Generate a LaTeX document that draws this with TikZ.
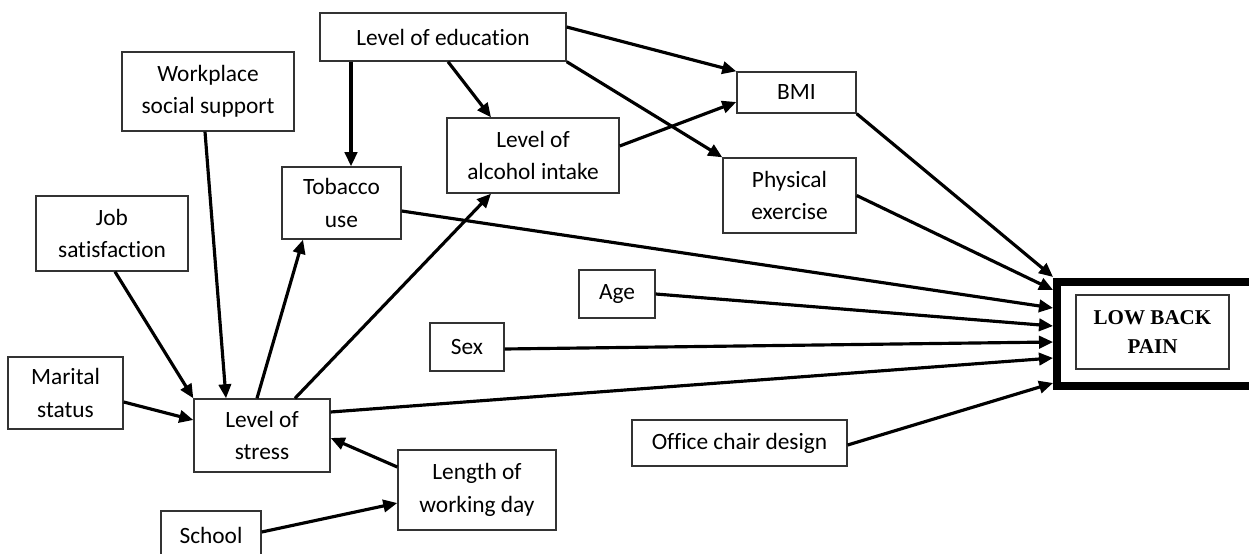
\documentclass[tikz,border=0pt]{standalone}
\usepackage{fontspec}
\setmainfont{Carlito}[Ligatures=NoCommon]
\newfontfamily\tiempos{Liberation Serif}
\usetikzlibrary{arrows.meta}

\tikzset{
  caja/.style={draw=black!80, line width=0.8pt, align=center, inner sep=2pt,
    font=\fontsize{13.3}{18.5}\selectfont},
  flecha/.style={line width=1.8pt, -{Triangle[length=8pt,width=7pt]}}
}

\begin{document}
\begin{tikzpicture}[x=0.02cm,y=-0.02cm]
        \useasboundingbox (0,0) rectangle (1249,554);

        % Cajas de arriba
        \node (edu) at (443,37) [caja, minimum width=4.92cm, minimum height=0.96cm] {Level of education};
        \node (work) at (208,91.5) [caja, minimum width=3.44cm, minimum height=1.58cm] {Workplace\\social support};
        \node (tob) at (341.5,203) [caja, minimum width=2.38cm, minimum height=1.44cm] {Tobacco\\use};
        \node (alc) at (533,155.5) [caja, minimum width=3.44cm, minimum height=1.5cm] {Level of\\alcohol intake};
        \node (bmi) at (796.5,92.5) [caja, minimum width=2.38cm, minimum height=0.82cm] {BMI};
        \node (phys) at (789.5,195.5) [caja, minimum width=2.66cm, minimum height=1.5cm] {Physical\\exercise};

        % Cajas de la izquierda y abajo
        \node (job) at (112,233.5) [caja, minimum width=3.04cm, minimum height=1.5cm] {Job\\satisfaction};
        \node (mar) at (65.5,393) [caja, minimum width=2.3cm, minimum height=1.44cm] {Marital\\status};
        \node (stress) at (262,435.5) [caja, minimum width=2.72cm, minimum height=1.46cm] {Level of\\stress};
        \node (len) at (477,490) [caja, minimum width=3.16cm, minimum height=1.6cm] {Length of\\working day};
        \node (school) at (211,535) [caja, minimum width=2cm, minimum height=0.96cm] {School};

        % Cajas del centro
        \node (age) at (617,294) [caja, minimum width=1.52cm, minimum height=0.96cm] {Age};
        \node (sex) at (467,347) [caja, minimum width=1.48cm, minimum height=0.96cm] {Sex};
        \node (chair) at (739.5,443) [caja, minimum width=4.3cm, minimum height=0.92cm] {Office chair design};

        % Caja final
        \node (lbp) at (1155,334) [draw, line width=4.5pt, minimum width=3.92cm, minimum height=2.08cm] {};
        \node (lbpin) at (1152.5,332) [caja, minimum width=3.06cm, minimum height=1.48cm,
          font=\tiempos\bfseries\fontsize{12}{16}\selectfont] {LOW BACK\\PAIN};

        % Flechas desde el nivel de educacion
        \draw[flecha] ([xshift=-1.84cm]edu.south) -- ([xshift=-1.84cm]edu.south |- tob.north);
        \draw[flecha] ([xshift=0.1cm]edu.south) -- ([xshift=-0.84cm]alc.north);
        \draw[flecha] ([yshift=0.2cm]edu.east) -- (bmi.north west);
        \draw[flecha] (edu.south east) -- (phys.north west);
        \draw[flecha] ([yshift=0.19cm]alc.east) -- ([yshift=-0.19cm]bmi.west);

        % Flechas hacia y desde el estres
        \draw[flecha] ([xshift=0.06cm]job.south) -- (stress.north west);
        \draw[flecha] ([xshift=-0.06cm]work.south) -- ([xshift=-0.72cm]stress.north);
        \draw[flecha] ([xshift=-0.1cm]stress.north) -- ([xshift=-0.77cm]tob.south);
        \draw[flecha] ([xshift=0.66cm]stress.north) -- ([xshift=-0.84cm]alc.south);
        \draw[flecha] ([yshift=-0.18cm]mar.east) -- ([yshift=0.31cm]stress.west);
        \draw[flecha] ([yshift=0.46cm]len.west) -- ([yshift=-0.05cm]stress.east);
        \draw[flecha] ([yshift=0.06cm]school.east) -- ([yshift=-0.26cm]len.west);

        % Flechas hacia el dolor lumbar
        \draw[flecha] (bmi.south east) -- ([yshift=1.14cm]lbp.west);
        \draw[flecha] (phys.east) -- ([yshift=0.88cm]lbp.west);
        \draw[flecha] ([yshift=-0.16cm]tob.east) -- ([yshift=0.52cm]lbp.west);
        \draw[flecha] (age.east) -- ([yshift=0.16cm]lbp.west);
        \draw[flecha] ([yshift=-0.04cm]sex.east) -- ([yshift=-0.16cm]lbp.west);
        \draw[flecha] ([yshift=0.47cm]stress.east) -- ([yshift=-0.48cm]lbp.west);
        \draw[flecha] ([yshift=-0.04cm]chair.east) -- ([yshift=-0.98cm]lbp.west);
    \end{tikzpicture}
\end{document}
